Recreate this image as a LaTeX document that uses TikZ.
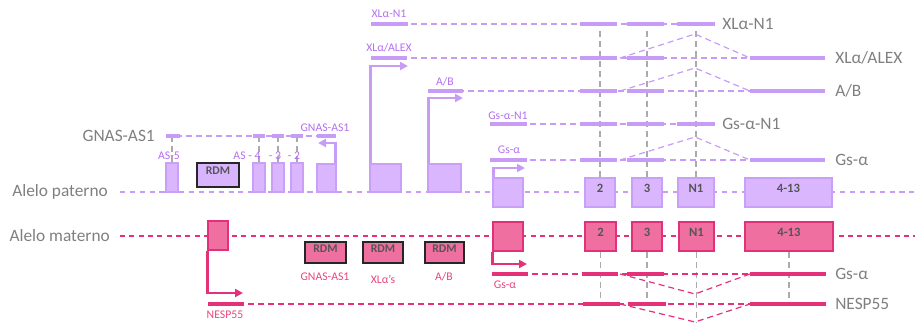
\documentclass[tikz,border=0pt]{standalone}
\usepackage{fontspec}
\setmainfont{Carlito}
\usetikzlibrary{arrows.meta,fit}

\definecolor{patline}{HTML}{C69CF6}
\definecolor{patfill}{HTML}{DAB6FF}
\definecolor{patedge}{HTML}{C99FF7}
\definecolor{pattext}{HTML}{B36FF0}
\definecolor{matline}{HTML}{E5307A}
\definecolor{matfill}{HTML}{EE6FA0}
\definecolor{matedge}{HTML}{E2307A}
\definecolor{mattext}{HTML}{E8447F}
\definecolor{graytext}{HTML}{7F7F7F}
\definecolor{guide}{HTML}{ABABAB}
\definecolor{boxtext}{HTML}{555555}

\tikzset{
  patrail/.style={draw=patline, line width=2.2pt, dash pattern=on 3.8pt off 3.6pt},
  matrail/.style={draw=matline, line width=2.2pt, dash pattern=on 3.8pt off 3.2pt},
  patbox/.style={draw=patedge, fill=patfill, line width=1.5pt, inner sep=0pt,
                 font=\fontsize{9.5}{10}\selectfont\bfseries, text=boxtext},
  matbox/.style={draw=matedge, fill=matfill, line width=1.9pt, inner sep=0pt,
                 font=\fontsize{9.5}{10}\selectfont\bfseries, text=boxtext},
  patrdm/.style={draw=black!85, fill=patfill!90!patline, line width=1.1pt, inner sep=0pt,
                 font=\fontsize{8.8}{10}\selectfont\bfseries, text=boxtext},
  matrdm/.style={draw=black!85, fill=matfill, line width=1.1pt, inner sep=0pt,
                 font=\fontsize{8.8}{10}\selectfont\bfseries, text=boxtext},
  pthin/.style={draw=patline, line width=0.9pt, dash pattern=on 4.5pt off 3pt},
  pseg/.style={draw=patline, line width=2.3pt},
  mthin/.style={draw=matline, line width=0.9pt, dash pattern=on 4.5pt off 3pt},
  mseg/.style={draw=matline, line width=2.3pt},
  guideline/.style={draw=guide, line width=0.8pt, dash pattern=on 4.5pt off 3pt},
  parrow/.style={draw=patline, line width=2.2pt, -{Triangle[length=6pt,width=6pt]}},
  marrow/.style={draw=matline, line width=2.2pt, -{Triangle[length=6pt,width=6pt]}},
  biglab/.style={text=graytext, inner sep=0pt, font=\fontsize{13}{15}\selectfont},
  plab/.style={text=pattext, inner sep=0pt, font=\fontsize{8.8}{10}\selectfont},
  mlab/.style={text=mattext, inner sep=0pt, font=\fontsize{8.8}{10}\selectfont},
}

\begin{document}
\begin{tikzpicture}[x=0.75pt, y=-0.75pt]
\useasboundingbox (0,0) rectangle (915,323);

% ---------- allele rails ----------
\coordinate (patL) at (120,192); \coordinate (patR) at (915,192);
\coordinate (matL) at (120,236); \coordinate (matR) at (915,236);
\draw[patrail] (patL) -- (patR);
\draw[matrail] (matL) -- (matR);
\node[biglab, anchor=east] (lpat) at (108,192) {Alelo paterno};
\node[biglab, anchor=east] (lmat) at (110,236) {Alelo materno};

% ---------- paternal exons ----------
\node[patbox, fit={(166,163) (178,192)}] (as5) {};
\node[patrdm, fit={(197,163) (239,187)}] (rdmP) {RDM};
\node[patbox, fit={(253,163) (265,192)}] (as4) {};
\node[patbox, fit={(272,163) (284,192)}] (as3) {};
\node[patbox, fit={(291,163) (303,192)}] (as2) {};
\node[patbox, fit={(317,164) (336,192)}] (asOne) {};
\node[patbox, fit={(370,164) (401,192)}] (xlP) {};
\node[patbox, fit={(428,164) (461,192)}] (abP) {};
\node[patbox, fit={(493,178) (523,207)}] (gsP) {};
\node[patbox, fit={(585,178) (615,207)}] (e2P) {2};
\node[patbox, fit={(632,178) (662,207)}] (e3P) {3};
\node[patbox, fit={(678,178) (714,207)}] (n1P) {N1};
\node[patbox, fit={(745,178) (832,207)}] (e4P) {4-13};

% ---------- maternal exons ----------
\node[matbox, fit={(208,221) (228,250)}] (nespM) {};
\node[matrdm, fit={(305,242) (346,263)}] (rdm1) {RDM};
\node[matrdm, fit={(363,242) (403,263)}] (rdm2) {RDM};
\node[matrdm, fit={(425,242) (464,263)}] (rdm3) {RDM};
\node[matbox, fit={(493,222) (523,251)}] (gsM) {};
\node[matbox, fit={(585,222) (616,251)}] (e2M) {2};
\node[matbox, fit={(632,222) (662,251)}] (e3M) {3};
\node[matbox, fit={(679,222) (714,251)}] (n1M) {N1};
\node[matbox, fit={(745,222) (833,251)}] (e4M) {4-13};

\node[mlab] (lrdm1) at (325,277) {GNAS-AS1};
\node[mlab] (lrdm2) at (383,279) {XLα’s};
\node[mlab] (lrdm3) at (444,277) {A/B};

% ---------- guide lines through the shared exons ----------
\draw[guideline] (e2P.north) -- (e2P.north |- 0,28);
\draw[guideline] (e3P.north) -- (e3P.north |- 0,28);
\draw[guideline] (n1P.north) -- (n1P.north |- 0,28);
\draw[guideline] (e2M.south) -- (e2M.south |- 0,303);
\draw[guideline] (e3M.south) -- (e3M.south |- 0,303);
\draw[guideline] (n1M.south) -- (n1M.south |- 0,323);
\draw[guideline] (e4M.south) -- (e4M.south |- 0,303);
\draw[guideline] (as5.north) -- (as5.north |- 0,137);
\draw[guideline] (as4.north) -- (as4.north |- 0,137);
\draw[guideline] (as3.north) -- (as3.north |- 0,137);
\draw[guideline] (as2.north) -- (as2.north |- 0,137);

% ---------- promoters ----------
\coordinate (xlTip) at (408,66);
\coordinate (abTip) at (463,98);
\coordinate (gsTip) at (525,168);
\coordinate (asTip) at (318,143);
\coordinate (nespTip) at (243,293);
\coordinate (gsMTip) at (527,264);
\draw[parrow] ([xshift=0.8pt]xlP.north west) |- (xlTip);
\draw[parrow] ([xshift=0.8pt]abP.north west) |- (abTip);
\draw[parrow] ([xshift=0.8pt]gsP.north west) |- (gsTip);
\draw[parrow] ([xshift=-0.8pt]asOne.north east) |- (asTip);
\draw[marrow] ([xshift=0.8pt]nespM.south west) |- (nespTip);
\draw[marrow] ([xshift=0.8pt]gsM.south west) |- (gsMTip);

% ---------- GNAS-AS1 transcript ----------
\draw[pthin] (166,136) -- (336,136);
\foreach \a/\b in {166/180, 253/265, 272/284, 291/303, 317/336}
  \draw[pseg] (\a,136) -- (\b,136);
\node[biglab, anchor=east] (lasbig) at (155,136) {GNAS-AS1};
\node[plab] (lasone) at (325,128) {GNAS-AS1};
\node[plab] (las5) at (169,156) {AS-5};
\node[plab] (las4) at (247,156) {AS - 4};
\node[plab] (las3) at (275,156) {- 3};
\node[plab] (las2) at (294,156) {- 2};

% ---------- paternal transcripts ----------
% XLalpha-N1
\draw[pthin] (371,24) -- (715,24);
\foreach \a/\b in {371/408, 580/617, 627/664, 677/715}
  \draw[pseg] (\a,24) -- (\b,24);
\node[plab] (txl) at (389,14) {XLα-N1};
\node[biglab, anchor=west] (rxl) at (722,24) {XLα-N1};
% XLalpha/ALEX
\draw[pthin] (371,58) -- (750,58);
\draw[pthin] (620,58) -- (695,34) -- (750,58);
\foreach \a/\b in {371/407, 580/617, 627/664, 750/825}
  \draw[pseg] (\a,58) -- (\b,58);
\node[plab] (talex) at (389,48) {XLα/ALEX};
\node[biglab, anchor=west] (ralex) at (835,58) {XLα/ALEX};
% A/B
\draw[pthin] (428,91) -- (750,91);
\draw[pthin] (620,91) -- (695,68) -- (750,91);
\foreach \a/\b in {428/463, 580/617, 627/664, 750/825}
  \draw[pseg] (\a,91) -- (\b,91);
\node[plab] (tab) at (445,82) {A/B};
\node[biglab, anchor=west] (rab) at (835,91) {A/B};
% Gs-alpha-N1
\draw[pthin] (490,124) -- (715,124);
\foreach \a/\b in {490/527, 580/617, 627/664, 677/715}
  \draw[pseg] (\a,124) -- (\b,124);
\node[plab] (tgsn) at (508,116) {Gs-α-N1};
\node[biglab, anchor=west] (rgsn) at (722,124) {Gs-α-N1};
% Gs-alpha (paternal)
\draw[pthin] (490,160) -- (750,160);
\draw[pthin] (620,160) -- (695,137) -- (750,160);
\foreach \a/\b in {490/527, 580/617, 627/664, 750/825}
  \draw[pseg] (\a,160) -- (\b,160);
\node[plab] (tgs) at (509,150) {Gs-α};
\node[biglab, anchor=west] (rgs) at (835,160) {Gs-α};

% ---------- maternal transcripts ----------
% Gs-alpha (maternal)
\draw[mthin] (492,274) -- (750,274);
\draw[mthin] (620,274) -- (695,294) -- (750,274);
\foreach \a/\b in {492/528, 582/618, 627/664, 750/826}
  \draw[mseg] (\a,274) -- (\b,274);
\node[mlab] (tgsm) at (505,285) {Gs-α};
\node[biglab, anchor=west] (rgsm) at (835,274) {Gs-α};
% NESP55
\draw[mthin] (208,304) -- (750,304);
\draw[mthin] (620,304) -- (695,322) -- (750,304);
\foreach \a/\b in {208/244, 583/620, 628/666, 750/826}
  \draw[mseg] (\a,304) -- (\b,304);
\node[mlab] (tnesp) at (225,315) {NESP55};
\node[biglab, anchor=west] (rnesp) at (835,304) {NESP55};
\end{tikzpicture}
\end{document}
